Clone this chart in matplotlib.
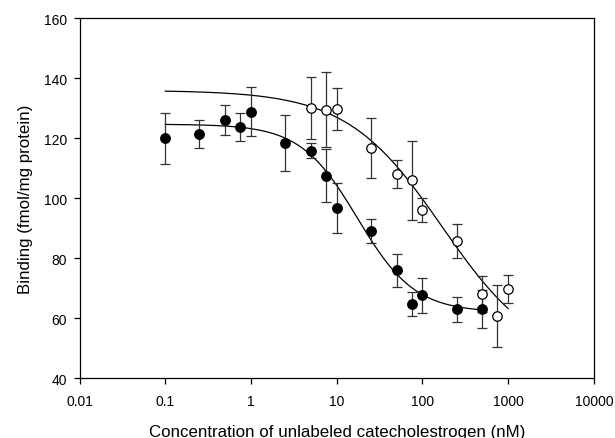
import numpy as np
import matplotlib
matplotlib.use('Agg')
import matplotlib.pyplot as plt

plt.rcParams['font.family'] = ['Liberation Sans', 'DejaVu Sans']

# filled circles
conc_filled = [0.1, 0.25, 0.5, 0.75, 1, 2.5, 5, 7.5, 10, 25, 50, 75, 100, 250, 500]
bind_filled = [120.0, 121.5, 126.1, 123.8, 128.9, 118.5, 115.9, 107.5, 96.8, 89.2, 76.0, 64.9, 67.7, 63.0, 63.1]
err_filled = [8.6, 4.6, 5.1, 4.6, 8.1, 9.4, 2.6, 8.8, 8.3, 4.0, 5.6, 4.0, 5.8, 4.1, 6.4]

# open circles
conc_open = [5, 7.5, 10, 25, 50, 75, 100, 250, 500, 750, 1000]
bind_open = [130.1, 129.5, 129.8, 116.8, 108.2, 106.0, 96.0, 85.8, 68.1, 60.7, 69.7]
err_open = [10.3, 12.5, 7.1, 9.9, 4.7, 13.1, 4.0, 5.8, 5.9, 10.4, 4.7]

# four parameter logistic fits: top, bottom, IC50, hill
fit_filled = (124.7, 62.0, 17.5, 1.3)
fit_open = (136.0, 45.0, 170.0, 0.78)


def logistic(x, top, bottom, ic50, hill):
    return bottom + (top - bottom) / (1 + (x / ic50) ** hill)


fig = plt.figure(figsize=(6.15, 4.39), dpi=100)
ax = fig.add_axes([0.1294, 0.136, 0.8362, 0.820])

xf = np.logspace(np.log10(0.1), np.log10(500), 200)
xo = np.logspace(np.log10(0.1), np.log10(1000), 200)
ax.plot(xf, logistic(xf, *fit_filled), color='black', lw=0.9)
ax.plot(xo, logistic(xo, *fit_open), color='black', lw=0.9)

ax.errorbar(conc_filled, bind_filled, yerr=err_filled, fmt='o', color='black',
            ecolor='#333333', elinewidth=0.9, capsize=3.5, capthick=0.9,
            markersize=6.8, markerfacecolor='black', markeredgecolor='black', zorder=3)
ax.errorbar(conc_open, bind_open, yerr=err_open, fmt='o', color='black',
            ecolor='#333333', elinewidth=0.9, capsize=3.5, capthick=0.9,
            markersize=6.8, markerfacecolor='white', markeredgecolor='black',
            markeredgewidth=0.9, zorder=3)

ax.set_xscale('log')
ax.set_xlim(0.01, 10000)
ax.set_ylim(40, 160)
ax.set_xticks([0.01, 0.1, 1, 10, 100, 1000, 10000])
ax.set_xticklabels(['0.01', '0.1', '1', '10', '100', '1000', '10000'])
ax.minorticks_off()
ax.set_yticks([40, 60, 80, 100, 120, 140, 160])
ax.tick_params(direction='out', length=4, width=0.9, labelsize=10, pad=5)
ax.tick_params(axis='x', pad=7)
for s in ax.spines.values():
    s.set_linewidth(0.9)

ax.set_xlabel('Concentration of unlabeled catecholestrogen (nM)', fontsize=12.2, labelpad=12)
ax.set_ylabel('Binding (fmol/mg protein)', fontsize=12.2, labelpad=8)

fig.savefig('out.png', dpi=100)
